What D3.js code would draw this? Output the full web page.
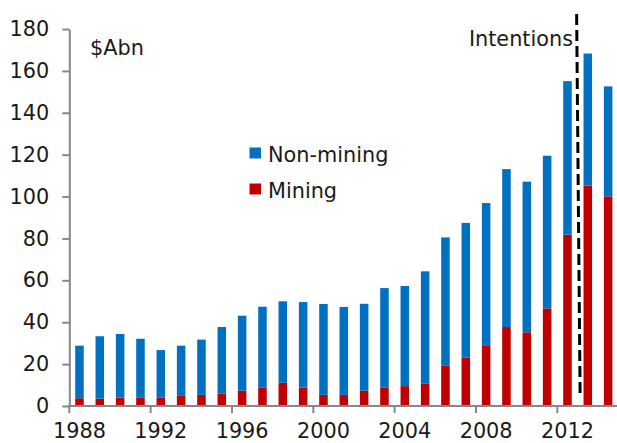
<!DOCTYPE html>
<html><head><meta charset="utf-8">
<script src="https://cdn.jsdelivr.net/npm/d3@7"></script>
<style>
html,body{margin:0;padding:0;background:#fff;}
svg{display:block;font-family:"DejaVu Sans",Verdana,sans-serif;}
</style></head>
<body>
<svg id="c" width="617" height="443"></svg>
<script>
const years = d3.range(1988, 2015);
const mining = [3.7,3.5,4.0,4.1,4.0,5.1,5.3,5.9,7.3,8.9,11.1,8.8,5.3,5.3,7.3,8.9,9.5,10.6,19.4,23.2,29.0,37.7,35.2,46.6,81.8,105.2,100.1];
const total  = [28.8,33.3,34.4,32.1,26.7,28.8,31.7,37.7,43.1,47.4,50.0,49.6,48.7,47.3,48.8,56.3,57.3,64.3,80.5,87.4,96.9,113.1,107.1,119.5,155.1,168.3,152.6];
const nonMining = total.map((t,i)=>+(t-mining[i]).toFixed(1));
const yTicks = [0,20,40,60,80,100,120,140,160,180];
const xTickYears = [1988,1992,1996,2000,2004,2008,2012];
const seriesNames = ["Non-mining","Mining"];
const colors = {"Mining":"#C00000","Non-mining":"#0070C0"};

const svg = d3.select("#c");
const fs = "20.8px";
const mLeft = 69.3, mRight = 618.3, mTop = 29, mBottom = 406;
const x = d3.scaleBand().domain(years).range([mLeft, mRight]).padding(0);
const y = d3.scaleLinear().domain([0,180]).range([mBottom, mTop]);
const bw = x.bandwidth()*0.42, off = x.bandwidth()*0.29;

const rows = years.map((yr,i)=>({year:yr, "Mining":mining[i], "Non-mining":nonMining[i]}));
const stack = d3.stack().keys(["Mining","Non-mining"])(rows);

svg.append("g").selectAll("g").data(stack).join("g")
  .attr("fill", d=>colors[d.key])
  .selectAll("rect").data(d=>d).join("rect")
  .attr("x", d=>x(d.data.year)+off)
  .attr("width", bw)
  .attr("y", d=>y(d[1]))
  .attr("height", d=>y(d[0])-y(d[1]));

const axisColor = "#878787", textColor = "#1a1a1a";
// y axis
const ya = svg.append("g").attr("transform",`translate(${mLeft},0)`)
  .call(d3.axisLeft(y).tickValues(yTicks).tickSize(7).tickSizeOuter(0).tickPadding(13));
ya.select(".domain").attr("stroke",axisColor).attr("stroke-width",2);
ya.selectAll(".tick line").attr("stroke",axisColor).attr("stroke-width",2);
ya.selectAll(".tick text").attr("fill",textColor).style("font-size",fs).style("font-family","DejaVu Sans");

// x axis
const xa = svg.append("g");
xa.append("line").attr("x1",mLeft-1).attr("x2",617).attr("y1",mBottom).attr("y2",mBottom)
  .attr("stroke",axisColor).attr("stroke-width",2);
xa.selectAll("line.t").data(xTickYears).join("line").attr("class","t")
  .attr("x1",d=>x(d)).attr("x2",d=>x(d)).attr("y1",mBottom).attr("y2",mBottom+7)
  .attr("stroke",axisColor).attr("stroke-width",2);
xa.selectAll("text").data(xTickYears).join("text")
  .attr("x",d=>x(d)+x.bandwidth()/2).attr("y",438)
  .attr("text-anchor","middle").attr("fill",textColor).style("font-size",fs)
  .text(d=>d);

// dashed line between 2012 and 2013
const xd = x(2013);
svg.append("line").attr("x1",xd-1).attr("x2",xd+2.5).attr("y1",14).attr("y2",398)
  .attr("stroke","#000").attr("stroke-width",3).attr("stroke-dasharray","11,5");

svg.append("text").attr("x",573).attr("y",46).attr("text-anchor","end")
  .attr("fill",textColor).style("font-size",fs).text("Intentions");
svg.append("text").attr("x",90).attr("y",55)
  .attr("fill",textColor).style("font-size",fs).text("$Abn");

// legend
const lg = svg.append("g");
seriesNames.forEach((s,i)=>{
  const yy = 147.5 + i*36;
  lg.append("rect").attr("x",249.5).attr("y",yy).attr("width",11.5).attr("height",11)
    .attr("fill",colors[s]);
  lg.append("text").attr("x",268).attr("y",yy+14.5).attr("fill",textColor)
    .style("font-size",fs).text(s);
});
</script>
</body></html>
